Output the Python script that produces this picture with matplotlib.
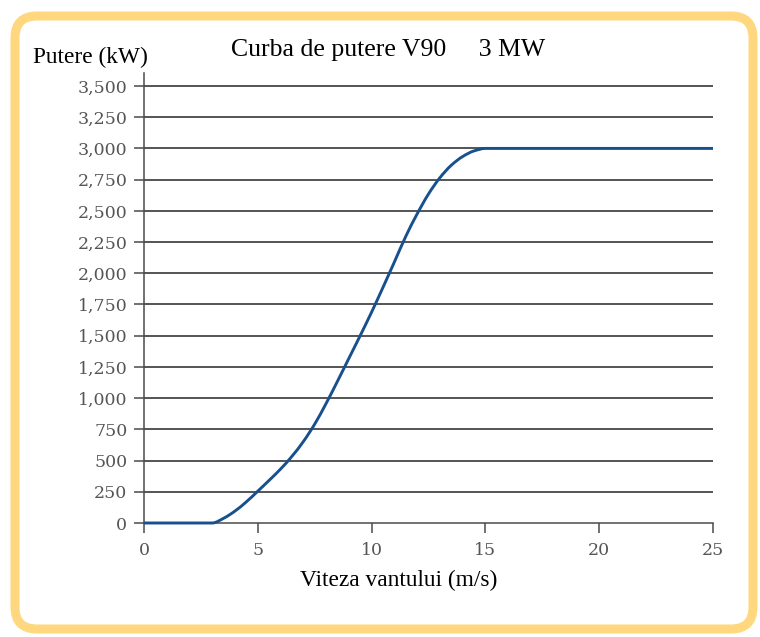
import matplotlib
matplotlib.use("Agg")
import matplotlib.pyplot as plt
from matplotlib.patches import FancyBboxPatch, PathPatch
from matplotlib.path import Path

# viteza vantului (m/s) si puterea (kW)
SPEED = [0, 1, 2, 3, 3.5, 4, 4.5, 5, 5.5, 6, 6.5, 7, 7.5, 8, 8.5, 9, 9.5,
         10, 10.5, 11, 11.5, 12, 12.5, 13, 13.5, 14, 14.5, 15, 20, 25]
POWER = [0, 0, 0, 0, 38, 96, 170, 255, 342, 432, 534, 652, 792, 957, 1135,
         1318, 1501, 1689, 1887, 2090, 2295, 2475, 2635, 2765, 2865, 2935,
         2980, 3000, 3000, 3000]

Y_TICKS = list(range(0, 3501, 250))
X_TICKS = [0, 5, 10, 15, 20, 25]

SERIF = ["Liberation Serif", "DejaVu Serif"]
TICK_FONT = ["DejaVu Serif"]


def smooth_path(xs, ys):
    # linie netezita (ca in Excel), tangente monotone -> fara depasiri
    n = len(xs)
    h = [xs[i + 1] - xs[i] for i in range(n - 1)]
    d = [(ys[i + 1] - ys[i]) / h[i] for i in range(n - 1)]
    m = [0.0] * n
    m[0], m[-1] = d[0], d[-1]
    for i in range(1, n - 1):
        if d[i - 1] * d[i] > 0:
            m[i] = 2 * d[i - 1] * d[i] / (d[i - 1] + d[i])
    verts = [(xs[0], ys[0])]
    codes = [Path.MOVETO]
    for i in range(n - 1):
        verts += [(xs[i] + h[i] / 3, ys[i] + m[i] * h[i] / 3),
                  (xs[i + 1] - h[i] / 3, ys[i + 1] - m[i + 1] * h[i] / 3),
                  (xs[i + 1], ys[i + 1])]
        codes += [Path.CURVE4] * 3
    return Path(verts, codes)


fig = plt.figure(figsize=(7.6, 6.37), dpi=100)
fig.patch.set_facecolor("white")

# chenar rotunjit portocaliu
frame = FancyBboxPatch((0.15, 0.08), 7.38, 6.13,
                       boxstyle="round,pad=0,rounding_size=0.22",
                       transform=fig.dpi_scale_trans,
                       fc="white", ec="#ffd77e", lw=6.5, zorder=-5)
fig.patches.append(frame)

ax = fig.add_axes([144/760, 1 - 523/637, (713 - 144)/760, (523 - 73)/637])
ax.set_facecolor("none")
ax.set_zorder(2)

ax.add_patch(PathPatch(smooth_path(SPEED, POWER), fill=False,
                       ec="#17508d", lw=2.1, zorder=3, clip_on=False))

ax.set_xlim(0, 25)
ax.set_ylim(0, 3604)
ax.set_yticks(Y_TICKS)
ax.set_yticklabels([f"{v:,}" for v in Y_TICKS])
ax.set_xticks(X_TICKS)
ax.set_xticklabels([str(v) for v in X_TICKS])

for v in Y_TICKS[1:]:
    ax.axhline(v, color="#262626", lw=1.1, zorder=1)

for s in ["top", "right"]:
    ax.spines[s].set_visible(False)
for s in ["left", "bottom"]:
    ax.spines[s].set_color("#4a4a4a")
    ax.spines[s].set_linewidth(1.1)

ax.tick_params(axis="both", direction="out", length=7, width=1.1,
               color="#4a4a4a", labelcolor="#555555", labelsize=12.5)
ax.tick_params(axis="y", pad=5)
ax.tick_params(axis="x", pad=7)
for lab in ax.get_xticklabels() + ax.get_yticklabels():
    lab.set_family(TICK_FONT)

fig.text(388/760, 1 - 50/637, "Curba de putere V90     3 MW",
         ha="center", va="center", fontsize=18.5, family=SERIF)
fig.text(90/760, 1 - 57/637, "Putere (kW)",
         ha="center", va="center", fontsize=16.8, family=SERIF)
fig.text(399/760, 1 - 580/637, "Viteza vantului (m/s)",
         ha="center", va="center", fontsize=16.8, family=SERIF)

fig.savefig("out.png", dpi=100, facecolor="white")
